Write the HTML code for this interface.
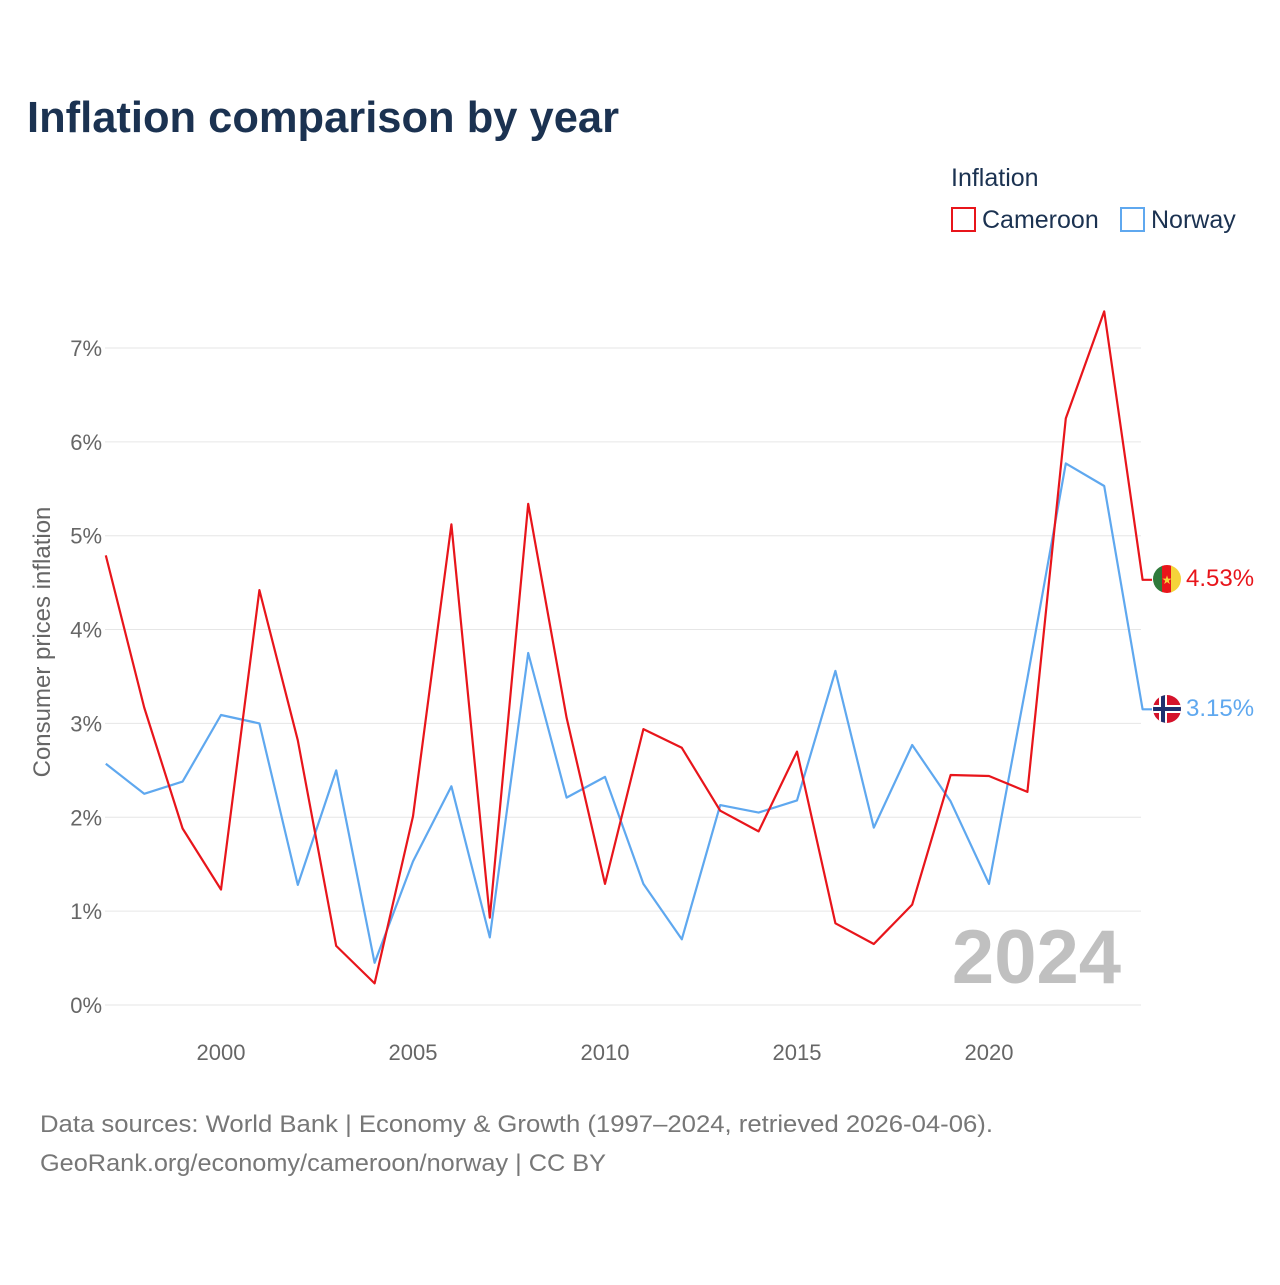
<!DOCTYPE html>
<html><head><meta charset="utf-8"><style>
body{margin:0;background:#fff;font-family:"Liberation Sans","DejaVu Sans",sans-serif}
#wrap{position:relative;width:1280px;height:1280px}
</style></head><body>
<div id="wrap">
<svg id="chart" width="1280" height="1280" xmlns="http://www.w3.org/2000/svg">
<text x="27" y="132" font-size="44" font-weight="bold" fill="#1b3251" textLength="592" lengthAdjust="spacingAndGlyphs">Inflation comparison by year</text>
<text x="951" y="186" font-size="25" fill="#1b3251">Inflation</text>
<g><rect x="952" y="208" width="23" height="23" fill="none" stroke="#e8151b" stroke-width="2"/><text x="982" y="228" font-size="25" fill="#1b3251">Cameroon</text></g>
<g><rect x="1121" y="208" width="23" height="23" fill="none" stroke="#5fa8ef" stroke-width="2"/><text x="1151" y="228" font-size="25" fill="#1b3251">Norway</text></g>
<g id="grid"></g><g id="xt"></g>
<text x="1121" y="983" font-size="76" font-weight="bold" fill="#c0c0c0" text-anchor="end">2024</text>
<text transform="translate(50,642) rotate(-90)" font-size="24" fill="#666" text-anchor="middle">Consumer prices inflation</text>
<g id="lines"></g>
<g><clipPath id="c1"><circle cx="1167" cy="579" r="14"/></clipPath><g clip-path="url(#c1)"><rect x="1153" y="565" width="10" height="28" fill="#2f7a3b"/><rect x="1162" y="565" width="10" height="28" fill="#e8151b"/><rect x="1171" y="565" width="10" height="28" fill="#f5d33a"/></g><text x="1167" y="584" font-size="12" fill="#f5d33a" text-anchor="middle">★</text></g>
<g><clipPath id="c2"><circle cx="1167" cy="709" r="14"/></clipPath><g clip-path="url(#c2)"><rect x="1153" y="695" width="28" height="28" fill="#d5122b"/><rect x="1153" y="705" width="28" height="8" fill="#fff"/><rect x="1159" y="695" width="8" height="28" fill="#fff"/><rect x="1153" y="707" width="28" height="4" fill="#1f2f6e"/><rect x="1161" y="695" width="4" height="28" fill="#1f2f6e"/></g></g>
<text x="1186" y="586" font-size="24" fill="#e8151b">4.53%</text>
<text x="1186" y="716" font-size="24" fill="#5fa8ef">3.15%</text>
<text x="40" y="1132" font-size="24" fill="#777" textLength="953" lengthAdjust="spacingAndGlyphs">Data sources: World Bank | Economy &amp; Growth (1997–2024, retrieved 2026-04-06).</text>
<text x="40" y="1171" font-size="24" fill="#777" textLength="566" lengthAdjust="spacingAndGlyphs">GeoRank.org/economy/cameroon/norway | CC BY</text>
</svg>
</div>
<script>
const years=[1997,1998,1999,2000,2001,2002,2003,2004,2005,2006,2007,2008,2009,2010,2011,2012,2013,2014,2015,2016,2017,2018,2019,2020,2021,2022,2023,2024];
const cameroon=[4.79,3.17,1.88,1.23,4.42,2.82,0.63,0.23,2.01,5.12,0.93,5.34,3.06,1.29,2.94,2.74,2.07,1.85,2.70,0.87,0.65,1.07,2.45,2.44,2.27,6.25,7.39,4.53];
const norway=[2.57,2.25,2.38,3.09,3.00,1.28,2.50,0.45,1.53,2.33,0.72,3.75,2.21,2.43,1.29,0.70,2.13,2.05,2.18,3.56,1.89,2.77,2.17,1.29,3.48,5.77,5.53,3.15];
const yTicks=[0,1,2,3,4,5,6,7];
const xTicks=[2000,2005,2010,2015,2020];
const NS="http://www.w3.org/2000/svg";
const X=y=>105.8+(y-1997)*38.4;
const Y=v=>1005-v*93.86;
function mk(tag,attrs,parent){const e=document.createElementNS(NS,tag);for(const k in attrs)e.setAttribute(k,attrs[k]);parent.appendChild(e);return e;}
const grid=document.getElementById('grid');
yTicks.forEach(t=>{
 const l=mk('line',{x1:105,x2:1141,y1:Y(t),y2:Y(t),stroke:'#e6e6e6','stroke-width':1},grid);
 
 
 const tx=mk('text',{x:102,y:Y(t)+8,'font-size':22,fill:'#666','text-anchor':'end'},grid);
 tx.textContent=t+'%';
 
 
});
const xt=document.getElementById('xt');
xTicks.forEach(t=>{
 const tx=mk('text',{x:X(t),y:1060,'font-size':22,fill:'#666','text-anchor':'middle'},xt);
 tx.textContent=t;
 
 
});
const lines=document.getElementById('lines');
function series(vals,color,name){
 let d=vals.map((v,i)=>(i?'L':'M')+X(years[i]).toFixed(1)+','+Y(v).toFixed(1)).join(' ');
 d+=' L1152,'+Y(vals[vals.length-1]).toFixed(1);
 const p=mk('path',{d:d,fill:'none',stroke:color,'stroke-width':2.2,'stroke-linejoin':'round'},lines);
 
 
}
series(norway,'#5fa8ef','norway-line');
series(cameroon,'#e8151b','cameroon-line');
</script>
</body></html>
